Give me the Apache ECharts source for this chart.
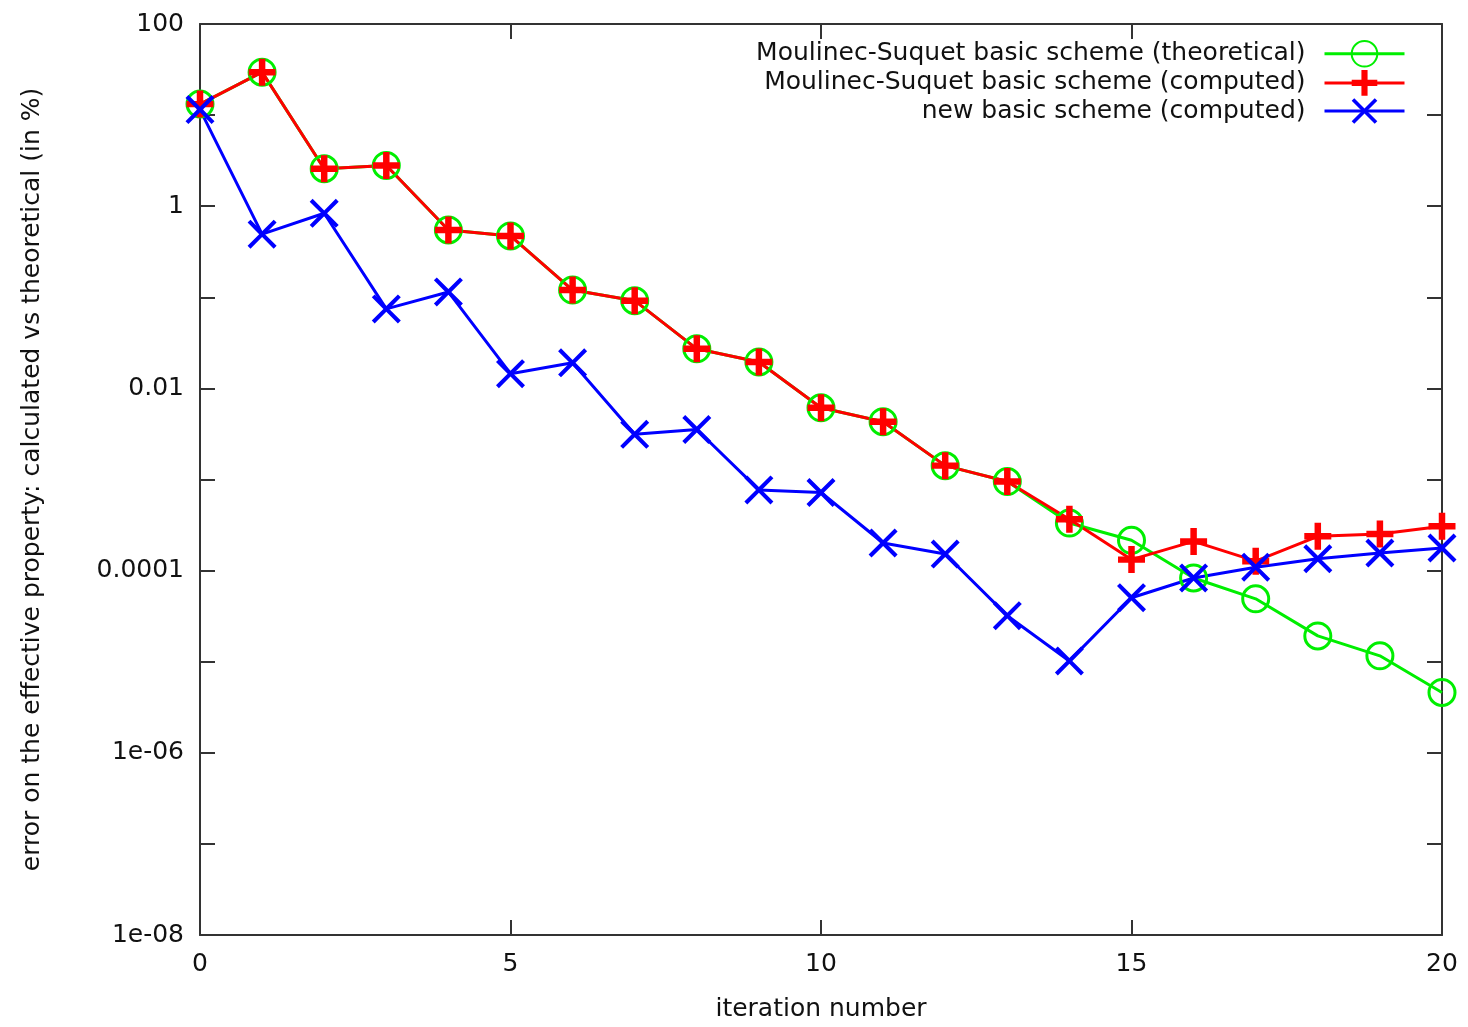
<!DOCTYPE html>
<html>
<head>
<meta charset="utf-8">
<script src="https://cdn.jsdelivr.net/npm/echarts@6/dist/echarts.min.js"></script>
<style>
  html, body { margin: 0; padding: 0; background: #fff; }
  #chart { width: 1468px; height: 1027px; }
</style>
</head>
<body>
<div id="chart"></div>
<script>
// iteration number 0..20
const iterations = [0, 1, 2, 3, 4, 5, 6, 7, 8, 9, 10, 11, 12, 13, 14, 15, 16, 17, 18, 19, 20]

// error (in %)
const msTheoretical = [13.2, 29.6, 2.58, 2.80, 0.549, 0.472, 0.120, 0.0918, 0.0272, 0.0195, 0.00612,
  0.00431, 0.00142, 0.00095, 0.000333, 0.000215, 8.3e-5, 4.9e-5, 1.92e-5, 1.16e-5, 4.6e-6]
const msComputed = [13.2, 29.6, 2.58, 2.80, 0.549, 0.472, 0.120, 0.0918, 0.0272, 0.0195, 0.00612,
  0.00431, 0.00142, 0.00095, 0.000367, 0.000132, 0.000209, 0.000127, 0.000238, 0.000252, 0.000306]
const newComputed = [11.5, 0.493, 0.836, 0.0746, 0.1145, 0.0145, 0.0191, 0.00313, 0.00354, 0.000769, 0.00072,
  0.000201, 0.000152, 3.2e-5, 1.02e-5, 5.04e-5, 8.3e-5, 0.000109, 0.000135, 0.000156, 0.000177]

const seriesNames = [
  'Moulinec-Suquet basic scheme (theoretical)',
  'Moulinec-Suquet basic scheme (computed)',
  'new basic scheme (computed)',
]

// labelled decades on the y axis
const yTickExps = [2, 0, -2, -4, -6, -8]
const yTickLabels = ['100', '1', '0.01', '0.0001', '1e-06', '1e-08']

const FONT = 'DejaVu Sans'
const TXT = '#111'
const AX = '#333'
const FS = 25

const PLUS = 'path://M3.8,0 H6.2 V3.8 H10 V6.2 H6.2 V10 H3.8 V6.2 H0 V3.8 H3.8 Z'
const CROSS = 'path://M0,1 L1,0 L5,4 L9,0 L10,1 L6,5 L10,9 L9,10 L5,6 L1,10 L0,9 L4,5 Z'

const toPairs = (ys) => iterations.map((x, i) => [x, ys[i]])

const chart = echarts.init(document.getElementById('chart'))

const axisLine = { show: true, onZero: false, lineStyle: { color: AX, width: 2 } }
const axisTick = { show: true, inside: true, length: 15, lineStyle: { color: AX, width: 2 } }

const option = {
  animation: false,
  backgroundColor: '#fff',
  grid: { left: 200, right: 26, top: 24, bottom: 88 },
  legend: {
    orient: 'vertical',
    right: 57,
    top: 35,
    align: 'right',
    itemWidth: 80,
    itemHeight: 32,
    itemGap: 2.5,
    lineStyle: { width: 3 },
    textStyle: { fontFamily: FONT, fontSize: FS, color: TXT, padding: [0, 14, 0, 0] },
    data: seriesNames,
  },
  xAxis: [
    {
      type: 'value',
      min: 0,
      max: 20,
      interval: 5,
      name: 'iteration number',
      nameLocation: 'middle',
      nameGap: 62,
      nameTextStyle: { fontFamily: FONT, fontSize: FS, color: TXT },
      axisLine,
      axisTick,
      axisLabel: { fontFamily: FONT, fontSize: FS, color: TXT, margin: 17 },
      splitLine: { show: false },
    },
    {
      type: 'value',
      position: 'top',
      min: 0,
      max: 20,
      interval: 5,
      axisLine,
      axisTick,
      axisLabel: { show: false },
      splitLine: { show: false },
    },
  ],
  yAxis: [
    {
      type: 'log',
      logBase: 10,
      min: 1e-8,
      max: 100,
      interval: 1,
      name: 'error on the effective property: calculated vs theoretical (in %)',
      nameLocation: 'middle',
      nameGap: 155,
      nameTextStyle: { fontFamily: FONT, fontSize: FS, color: TXT },
      axisLine,
      axisTick,
      axisLabel: {
        fontFamily: FONT,
        fontSize: FS,
        color: TXT,
        margin: 16,
        formatter: (v) => {
          const i = yTickExps.indexOf(Math.round(Math.log10(v)))
          return i >= 0 ? yTickLabels[i] : ''
        },
      },
      splitLine: { show: false },
    },
    {
      type: 'log',
      logBase: 10,
      position: 'right',
      min: 1e-8,
      max: 100,
      interval: 1,
      axisLine,
      axisTick,
      axisLabel: { show: false },
      splitLine: { show: false },
    },
  ],
  series: [
    {
      name: seriesNames[0],
      type: 'line',
      data: toPairs(msTheoretical),
      symbol: 'circle',
      symbolSize: 26,
      lineStyle: { color: '#00ee00', width: 3 },
      itemStyle: { color: 'rgba(0,0,0,0)', borderColor: '#00ee00', borderWidth: 3 },
      emphasis: { disabled: true },
    },
    {
      name: seriesNames[1],
      type: 'line',
      data: toPairs(msComputed),
      symbol: PLUS,
      symbolSize: 27,
      lineStyle: { color: '#ff0000', width: 3 },
      itemStyle: { color: '#ff0000' },
      emphasis: { disabled: true },
    },
    {
      name: seriesNames[2],
      type: 'line',
      data: toPairs(newComputed),
      symbol: CROSS,
      symbolSize: 29,
      lineStyle: { color: '#0000ff', width: 3 },
      itemStyle: { color: '#0000ff' },
      emphasis: { disabled: true },
    },
  ],
}

chart.setOption(option)
</script>
</body>
</html>
